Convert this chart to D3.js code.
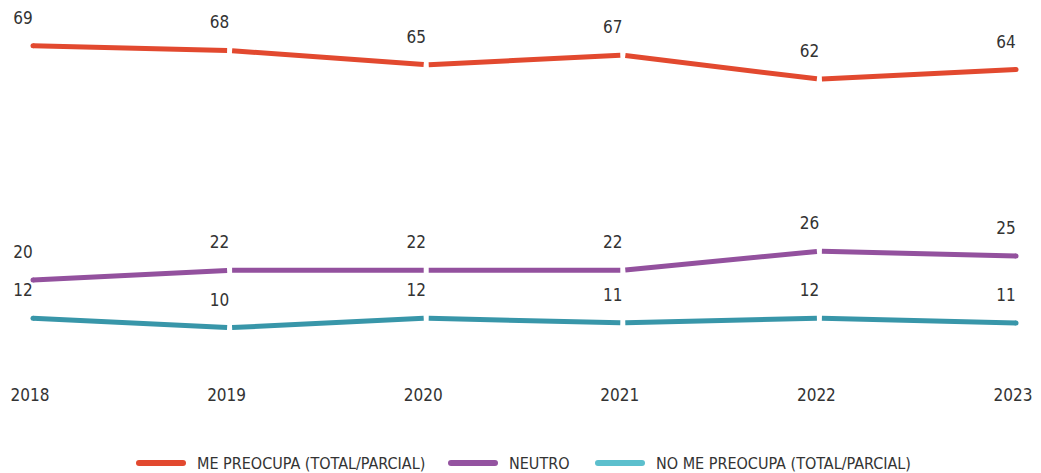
<!DOCTYPE html>
<html>
<head>
<meta charset="utf-8">
<script src="https://cdn.jsdelivr.net/npm/d3@7"></script>
<style>
  html, body { margin: 0; padding: 0; background: #fff; }
  svg text { font-family: "Liberation Sans Narrow", "DejaVu Sans Condensed", "Liberation Sans", sans-serif; fill: #333; }
</style>
</head>
<body>
<svg id="chart" width="1041" height="473"></svg>
<script>
const years = ["2018", "2019", "2020", "2021", "2022", "2023"];
const seriesNames = ["ME PREOCUPA (TOTAL/PARCIAL)", "NEUTRO", "NO ME PREOCUPA (TOTAL/PARCIAL)"];
const mePreocupa = [69, 68, 65, 67, 62, 64];
const neutro = [20, 22, 22, 22, 26, 25];
const noMePreocupa = [12, 10, 12, 11, 12, 11];
const lineColors = ["#e2492f", "#93519e", "#3896a9"];
const legendColors = ["#e2492f", "#9453a0", "#5cbfcd"];

const series = [mePreocupa, neutro, noMePreocupa].map((values, i) => ({
  name: seriesNames[i], values, color: lineColors[i], legend: legendColors[i]
}));

const svg = d3.select("#chart");
const x = d3.scalePoint().domain(years).range([33, 1016]);
const y = d3.scaleLinear().domain([0, 70]).range([375.5, 40.9]);

const gap = 2.5;   // half-width of the white break at interior points
const lineW = 5;

const plot = svg.append("g");
series.forEach(s => {
  const pts = s.values.map((v, i) => [x(years[i]), y(v)]);
  const g = plot.append("g");
  for (let i = 0; i < pts.length - 1; i++) {
    const [x0, y0] = pts[i], [x1, y1] = pts[i + 1];
    const slope = (y1 - y0) / (x1 - x0);
    const a = i === 0 ? 0 : gap;
    const b = i === pts.length - 2 ? 0 : gap;
    g.append("line")
      .attr("x1", x0 + a).attr("y1", y0 + slope * a)
      .attr("x2", x1 - b).attr("y2", y1 - slope * b)
      .attr("stroke", s.color).attr("stroke-width", lineW)
      .attr("stroke-linecap", "butt");
  }
  // rounded outer ends
  [pts[0], pts[pts.length - 1]].forEach(p => {
    g.append("circle").attr("cx", p[0]).attr("cy", p[1]).attr("r", lineW / 2).attr("fill", s.color);
  });
  // value labels
  g.selectAll("text").data(s.values).join("text")
    .attr("x", (d, i) => x(years[i]) - 10)
    .attr("y", d => y(d) - 22)
    .attr("text-anchor", "middle")
    .attr("font-size", 17)
    .text(d => d);
});

// year labels
svg.append("g").selectAll("text").data(years).join("text")
  .attr("x", d => x(d) - 3)
  .attr("y", 401)
  .attr("text-anchor", "middle")
  .attr("font-size", 17)
  .text(d => d);

// legend
const legendX = [136, 448, 595];
const legend = svg.append("g");
series.forEach((s, i) => {
  const lg = legend.append("g").attr("transform", `translate(${legendX[i]},463)`);
  lg.append("line").attr("x1", 3).attr("x2", 47).attr("y1", 0).attr("y2", 0)
    .attr("stroke", s.legend).attr("stroke-width", 6).attr("stroke-linecap", "round");
  lg.append("text").attr("x", 61).attr("y", 0).attr("dy", "0.35em")
    .attr("font-size", 16).text(s.name);
});
</script>
</body>
</html>
